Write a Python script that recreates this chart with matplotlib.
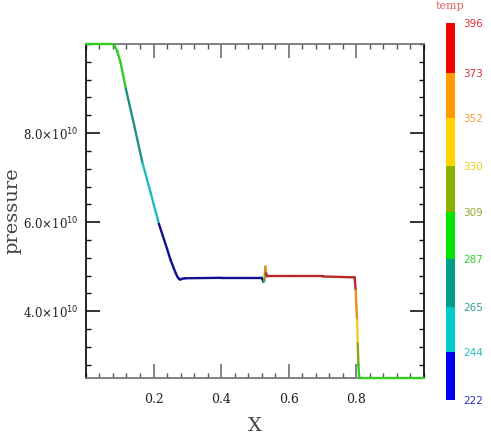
import numpy as np
import matplotlib
matplotlib.use("Agg")
import matplotlib.pyplot as plt
from matplotlib.collections import LineCollection
from matplotlib.colors import ListedColormap, BoundaryNorm
from matplotlib.ticker import MultipleLocator, FixedLocator

# ---- data ----
x_pos = [0.0, 0.078, 0.085, 0.093, 0.103, 0.11, 0.118, 0.13, 0.142, 0.167, 0.191,
         0.216, 0.24, 0.25, 0.26, 0.266, 0.271, 0.275, 0.279, 0.285, 0.294,
         0.40, 0.52, 0.525, 0.528, 0.531, 0.533, 0.536,
         0.60, 0.70, 0.795, 0.798, 0.800, 0.802, 0.804, 0.806, 0.808, 0.810,
         0.85, 1.0]
pressure = [10.0, 10.0, 9.96, 9.83, 9.57, 9.3, 9.0, 8.6, 8.2, 7.34, 6.67,
            5.96, 5.40, 5.16, 4.96, 4.85, 4.77, 4.73, 4.71, 4.73, 4.74,
            4.75, 4.75, 4.66, 4.7, 5.0, 4.85, 4.78,
            4.78, 4.78, 4.76, 4.47, 4.1, 3.8, 3.28, 2.8, 2.55, 2.5,
            2.5, 2.5]  # x 1e10
temp = [300, 300, 299, 297, 293, 291, 287, 282, 277, 265, 255,
        244, 238, 236, 234, 233, 233, 232, 232, 232, 232,
        232, 232, 240, 290, 340, 375, 385,
        385, 385, 385, 373, 362, 352, 330, 309, 302, 300,
        300, 300]
cb_levels = [222, 244, 265, 287, 309, 330, 352, 373, 396]
cb_colors = ['#0000ee', '#00cccc', '#009e88', '#00e400', '#8cb000',
             '#ffd400', '#ff9a00', '#ee0000']
line_colors = ['#101090', '#22bbbb', '#1a9480', '#33cc22', '#88a818',
               '#f0d020', '#e89020', '#b82828']
label_colors = ['#3030c0', '#20c0c0', '#30a090', '#30d030', '#90a830',
                '#e8d020', '#f0a040', '#d03030', '#e03030']

x_pos = np.array(x_pos)
p = np.array(pressure) * 1e10
t = np.array(temp, dtype=float)

fig = plt.figure(figsize=(4.91, 4.44), dpi=100)
ax = fig.add_axes([0.175, 0.1486, 0.6885, 0.7523])

norm = BoundaryNorm(cb_levels, len(cb_colors))
lcmap = ListedColormap(line_colors)
pts = np.column_stack([x_pos, p]).reshape(-1, 1, 2)
segs = np.concatenate([pts[:-1], pts[1:]], axis=1)
tmid = 0.5 * (t[:-1] + t[1:])
lc = LineCollection(segs, cmap=lcmap, norm=norm, linewidths=1.7,
                    capstyle='round', joinstyle='round', zorder=5)
lc.set_array(tmid)
lc.set_clip_on(False)
ax.add_collection(lc)

ax.set_xlim(0, 1.0)
ax.set_ylim(2.5e10, 1.0e11)

serif = 'DejaVu Serif'
plt.rcParams['mathtext.fontset'] = 'dejavuserif'

ax.xaxis.set_major_locator(FixedLocator([0.2, 0.4, 0.6, 0.8]))
ax.xaxis.set_minor_locator(MultipleLocator(0.04))
ax.yaxis.set_major_locator(FixedLocator([4e10, 6e10, 8e10]))
ax.yaxis.set_minor_locator(MultipleLocator(0.4e10))
ax.set_xticklabels(['0.2', '0.4', '0.6', '0.8'], fontfamily=serif, fontsize=9, color='#222222')
ax.set_yticklabels([r'4.0$\times$10$^{10}$', r'6.0$\times$10$^{10}$', r'8.0$\times$10$^{10}$'],
                   fontfamily=serif, fontsize=8.5, color='#222222')
ax.tick_params(axis='both', which='both', direction='in', top=True, right=True)
ax.tick_params(axis='x', which='major', length=10, width=1.2, color='#707070', pad=11)
ax.tick_params(axis='x', which='minor', length=3.5, width=1.0, color='#555555')
ax.tick_params(axis='y', which='major', length=10, width=1.2, color='#111111', pad=5.5)
ax.tick_params(axis='y', which='minor', length=3.5, width=1.0, color='#111111')
for s in ['top', 'bottom']:
    ax.spines[s].set_color('#777777')
    ax.spines[s].set_linewidth(1.3)
for s in ['left', 'right']:
    ax.spines[s].set_color('#111111')
    ax.spines[s].set_linewidth(1.3)

ax.set_xlabel('X', fontfamily=serif, fontsize=14, color='#444444', labelpad=8)
fig.text(12 / 491, 1 - 211 / 444, 'pressure', rotation=90, ha='center', va='center',
         fontfamily=serif, fontsize=14, color='#444444')

# colorbar
cax = fig.add_axes([0.908, 0.099, 0.018, 0.849])
cmap = ListedColormap(cb_colors)
sm = matplotlib.cm.ScalarMappable(norm=norm, cmap=cmap)
cb = fig.colorbar(sm, cax=cax, ticks=cb_levels, spacing='proportional')
cb.outline.set_visible(False)
cax.tick_params(length=0, pad=6)
cax.set_yticklabels([str(v) for v in cb_levels], fontsize=7.5, fontfamily='DejaVu Sans')
for lbl, c in zip(cax.get_yticklabels(), label_colors):
    lbl.set_color(c)
fig.text(450 / 491, 1 - 6 / 444, 'temp', ha='center', va='center', fontsize=8,
         color='#e06060', fontfamily=serif)

fig.savefig('out.png', dpi=100)
